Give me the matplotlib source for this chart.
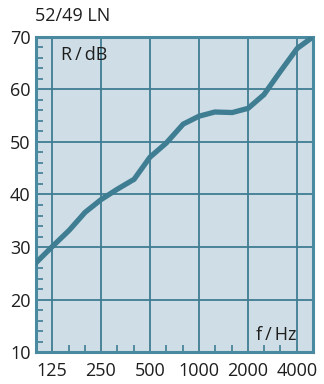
import matplotlib
matplotlib.use("Agg")
import matplotlib.pyplot as plt
from matplotlib.ticker import FixedLocator, NullFormatter

# third-octave band centre frequencies and sound reduction index
freqs = [100, 125, 160, 200, 250, 315, 400, 500, 630, 800,
         1000, 1250, 1600, 2000, 2500, 3150, 4000, 5000]
r_db = [27.0, 30.0, 33.2, 36.6, 39.0, 41.0, 42.9, 47.1, 49.8, 53.4,
        54.9, 55.7, 55.6, 56.4, 59.0, 63.4, 67.8, 70.0]

x_ticks = [125, 250, 500, 1000, 2000, 4000]
x_labels = ["125", "250", "500", "1000", "2000", "4000"]
y_ticks = [10, 20, 30, 40, 50, 60, 70]

teal = "#3f7d93"
bg = "#cfdee6"
ink = "#1e1e1e"

plt.rcParams["font.family"] = ["Open Sans", "DejaVu Sans"]

fig = plt.figure(figsize=(3.24, 3.84), dpi=100)
ax = fig.add_axes([0.111, 0.083, 0.855, 0.821])
ax.set_facecolor(bg)

ax.plot(freqs, r_db, color=teal, lw=3.8, solid_joinstyle="miter", zorder=3)

ax.set_xscale("log", base=2)
ax.set_xlim(100, 5000)
ax.set_ylim(10, 70)

ax.xaxis.set_major_locator(FixedLocator(x_ticks))
ax.set_xticklabels(x_labels)
minor_x = [f for f in freqs if f not in x_ticks]
ax.xaxis.set_minor_locator(FixedLocator(minor_x))
ax.xaxis.set_minor_formatter(NullFormatter())
ax.yaxis.set_major_locator(FixedLocator(y_ticks))
ax.yaxis.set_minor_locator(FixedLocator(range(12, 70, 2)))

ax.grid(True, which="major", color=teal, lw=1.3, zorder=1)
ax.tick_params(which="major", length=0, labelsize=13, colors=ink, pad=4)
ax.tick_params(which="minor", direction="in", length=5, width=1.2, color=teal)
ax.tick_params(axis="x", which="major", pad=7)

for s in ax.spines.values():
    s.set_color("#4a8aa1")
    s.set_linewidth(2.2)

ax.text(0.092, 0.97, "R\u2009/\u2009dB", transform=ax.transAxes, ha="left",
        va="top", fontsize=13, color=ink)
ax.text(0.942, 0.04, "f\u2009/\u2009Hz", transform=ax.transAxes, ha="right",
        va="baseline", fontsize=13, color=ink)
fig.text(0.108, 0.958, "52/49 LN", ha="left", va="center", fontsize=13,
         color=ink)

fig.savefig("out.png", dpi=100)
